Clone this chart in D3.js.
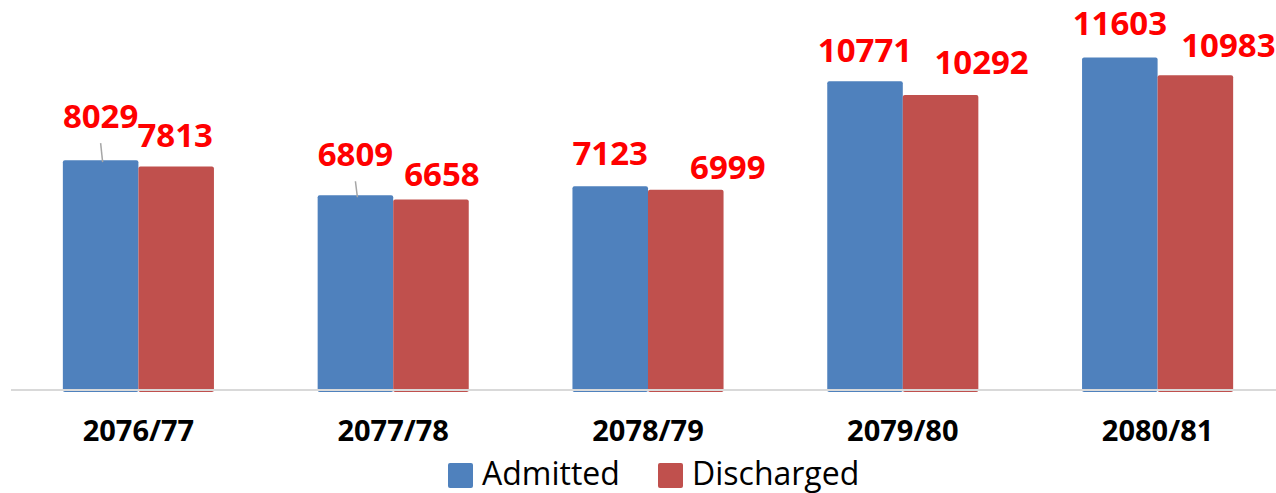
<!DOCTYPE html>
<html>
<head>
<meta charset="utf-8">
<script src="https://cdn.jsdelivr.net/npm/d3@7"></script>
<style>
  html, body { margin: 0; padding: 0; background: #fff; overflow: hidden; }
  svg { display: block; }
</style>
</head>
<body>
<div id="chart"></div>
<script>
'use strict'

// data
const years = ['2076/77', '2077/78', '2078/79', '2079/80', '2080/81'];
const series = ['Admitted', 'Discharged'];
const admitted = [8029, 6809, 7123, 10771, 11603];
const discharged = [7813, 6658, 6999, 10292, 10983];

// manual label nudges (like the dragged labels in the original), [dx, dy] from bar top
const admittedNudge = [[0, -32], [0, -29], [0, -21], [0, -19], [0, -22]];
const dischargedNudge = [[-1, -19], [11, -14], [42, -11], [41, -21], [33, -18]];
// labels that got a leader line back to their bar
const leaderLines = [true, true, false, false, false];

////////////////////////////////////////
/////////////// Defaults ///////////////
////////////////////////////////////////

const options = {
  width: 1276,
  height: 493,
  baseline: 391,
  colors: { Admitted: '#4f81bd', Discharged: '#c0504d' },
  font: "'Open Sans', 'Liberation Sans', sans-serif"
};

const rows = years.map((y, i) => ({
  year: y,
  values: [
    { key: 'Admitted', value: admitted[i], nudge: admittedNudge[i], leader: leaderLines[i] },
    { key: 'Discharged', value: discharged[i], nudge: dischargedNudge[i], leader: false }
  ]
}));

////////////////////////////////////////
////////////// SVG Setup ///////////////
////////////////////////////////////////

const svg = d3.select('#chart').append('svg')
  .attr('width', options.width)
  .attr('height', options.height)
  .attr('viewBox', `0 0 ${options.width} ${options.height}`);

const x0 = d3.scaleBand()
  .domain(years)
  .range([11, 1285])
  .paddingInner(0.407)
  .paddingOuter(0.2035);

const x1 = d3.scaleBand()
  .domain(series)
  .range([0, x0.bandwidth()]);

const y = d3.scaleLinear()
  .domain([0, 13600])
  .range([options.baseline, 0]);

////////////////////////////////////////
//////////////// Bars //////////////////
////////////////////////////////////////

const groups = svg.selectAll('.group')
  .data(rows)
  .join('g')
  .attr('class', 'group')
  .attr('transform', d => `translate(${x0(d.year)},0)`);

groups.selectAll('rect')
  .data(d => d.values)
  .join('rect')
  .attr('x', d => x1(d.key))
  .attr('y', d => y(d.value))
  .attr('width', x1.bandwidth())
  .attr('height', d => y(0) - y(d.value) + 1)
  .attr('rx', 2)
  .attr('fill', d => options.colors[d.key]);

// category axis line
svg.append('line')
  .attr('x1', 11)
  .attr('x2', options.width)
  .attr('y1', options.baseline - 1)
  .attr('y2', options.baseline - 1)
  .attr('stroke', '#d9d9d9')
  .attr('stroke-width', 2);

////////////////////////////////////////
/////////////// Labels /////////////////
////////////////////////////////////////

const labelX = d => x1(d.key) + x1.bandwidth() / 2 + d.nudge[0];
const labelY = d => y(d.value) + d.nudge[1];

groups.selectAll('.leader')
  .data(d => d.values.filter(v => v.leader))
  .join('line')
  .attr('class', 'leader')
  .attr('x1', d => labelX(d))
  .attr('y1', d => labelY(d) + 15)
  .attr('x2', d => x1(d.key) + x1.bandwidth() / 2 + 2)
  .attr('y2', d => y(d.value) + 2)
  .attr('stroke', '#a6a6a6')
  .attr('stroke-width', 1.5);

groups.selectAll('.value-label')
  .data(d => d.values)
  .join('text')
  .attr('class', 'value-label')
  .attr('x', labelX)
  .attr('y', labelY)
  .attr('text-anchor', 'middle')
  .attr('font-family', options.font)
  .attr('font-weight', 'bold')
  .attr('font-size', 33)
  .attr('fill', '#ff0000')
  .text(d => d.value);

// x tick labels
svg.selectAll('.year-label')
  .data(years)
  .join('text')
  .attr('class', 'year-label')
  .attr('x', d => x0(d) + x0.bandwidth() / 2)
  .attr('y', 441)
  .attr('text-anchor', 'middle')
  .attr('font-family', options.font)
  .attr('font-weight', 'bold')
  .attr('font-size', 29)
  .attr('fill', '#000')
  .text(d => d);

////////////////////////////////////////
/////////////// Legend /////////////////
////////////////////////////////////////

const legendPos = [448, 658];

const legend = svg.selectAll('.legend')
  .data(series)
  .join('g')
  .attr('class', 'legend')
  .attr('transform', (d, i) => `translate(${legendPos[i]},463)`);

legend.append('rect')
  .attr('width', 25)
  .attr('height', 25)
  .attr('rx', 2)
  .attr('fill', d => options.colors[d]);

legend.append('text')
  .attr('x', 34)
  .attr('y', 22)
  .attr('font-family', options.font)
  .attr('font-size', 32)
  .attr('fill', '#000')
  .text(d => d);
</script>
</body>
</html>
